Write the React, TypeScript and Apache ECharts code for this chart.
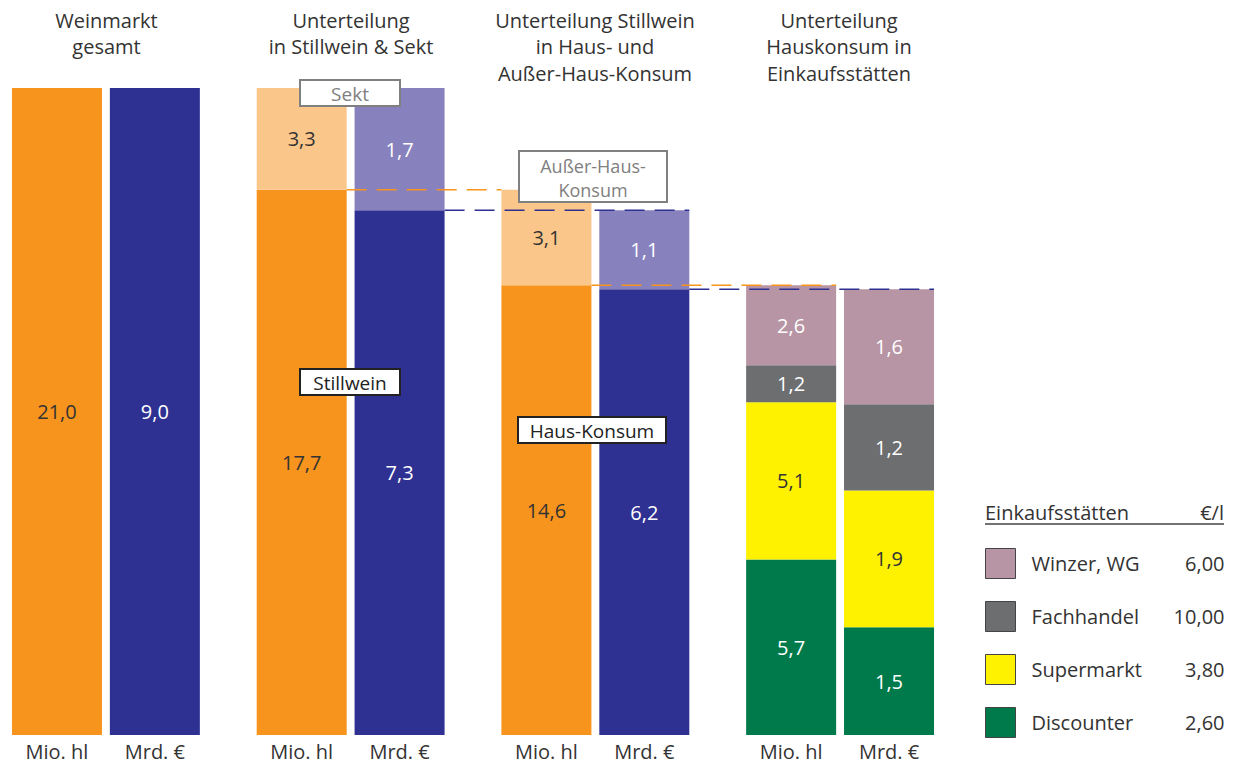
import React, { useEffect, useRef } from "react";
import * as echarts from "echarts";

// ---- data ----
const slotCount = 18;
const hlSlots = [0, 5, 10, 15];
const eurSlots = [2, 7, 12, 17];
const unitLabels = ["Mio. hl", "Mrd. €"];

const hlBase = [21.0, 17.7, 14.6];       // Weinmarkt / Stillwein / Haus-Konsum
const hlUpper = [null, 3.3, 3.1];        // Sekt / Außer-Haus
const eurBase = [9.0, 7.3, 6.2];
const eurUpper = [null, 1.7, 1.1];

const storeNames = ["Discounter", "Supermarkt", "Fachhandel", "Winzer, WG"];
const storeHl = [5.7, 5.1, 1.2, 2.6];
const storeEur = [1.5, 1.9, 1.2, 1.6];
const storePrices = ["2,60", "3,80", "10,00", "6,00"];
const storeColors = ["#007A4A", "#FFF200", "#6D6E70", "#B895A5"];
const storeLabelColors = ["#fff", "#333", "#fff", "#fff"];

const groupTitles = [
  "Weinmarkt\ngesamt",
  "Unterteilung\nin Stillwein & Sekt",
  "Unterteilung Stillwein\nin Haus- und\nAußer-Haus-Konsum",
  "Unterteilung\nHauskonsum in\nEinkaufsstätten",
];

const FONT = "'Open Sans', Roboto, sans-serif";
const TXT = "#333";

function place(slots: number[], values: (number | null)[]): any[] {
  const arr: any[] = new Array(slotCount).fill("-");
  values.forEach((v, i) => {
    if (v !== null && v !== undefined) arr[slots[i]] = v;
  });
  return arr;
}

const fmt = (p: any) =>
  typeof p.value === "number" ? p.value.toFixed(1).replace(".", ",") : "";

export default function App() {
  const ref = useRef<HTMLDivElement>(null);
  useEffect(() => {
    const chart = echarts.init(ref.current!, undefined, { renderer: "svg" });
    const categories = Array.from({ length: slotCount }, (_, i) => "s" + i);
    const labelFor = (v: string) => {
      const i = Number(v.slice(1));
      if (hlSlots.includes(i)) return unitLabels[0];
      if (eurSlots.includes(i)) return unitLabels[1];
      return "";
    };
    const mkLabel = (color: string) => ({
      show: true,
      position: "inside",
      color,
      fontSize: 20,
      fontFamily: FONT,
      formatter: fmt,
    });
    const base = { type: "bar", barWidth: 90, clip: false };
    const series: any[] = [
      {
        ...base,
        name: "Basis hl",
        xAxisIndex: 0,
        yAxisIndex: 0,
        stack: "hl",
        data: place(hlSlots, hlBase),
        itemStyle: { color: "#F7941D" },
        label: mkLabel(TXT),
      },
      {
        ...base,
        name: "Oben hl",
        xAxisIndex: 0,
        yAxisIndex: 0,
        stack: "hl",
        data: place(hlSlots, hlUpper),
        itemStyle: { color: "#FBC68A" },
        label: mkLabel(TXT),
      },
      {
        ...base,
        name: "Basis eur",
        xAxisIndex: 1,
        yAxisIndex: 1,
        stack: "eur",
        data: place(eurSlots, eurBase),
        itemStyle: { color: "#2E3192" },
        label: mkLabel("#fff"),
      },
      {
        ...base,
        name: "Oben eur",
        xAxisIndex: 1,
        yAxisIndex: 1,
        stack: "eur",
        data: place(eurSlots, eurUpper),
        itemStyle: { color: "#8781BD" },
        label: mkLabel("#fff"),
      },
    ];
    storeNames.forEach((n, i) => {
      series.push({
        ...base,
        name: n,
        xAxisIndex: 0,
        yAxisIndex: 0,
        stack: "hl",
        data: place([hlSlots[3]], [storeHl[i]]),
        itemStyle: { color: storeColors[i] },
        label: mkLabel(storeLabelColors[i]),
      });
      series.push({
        ...base,
        name: n,
        xAxisIndex: 1,
        yAxisIndex: 1,
        stack: "eur",
        data: place([eurSlots[3]], [storeEur[i]]),
        itemStyle: { color: storeColors[i] },
        label: mkLabel(storeLabelColors[i]),
      });
    });

    const legendOrder = [...storeNames].reverse();
    const priceOf: Record<string, string> = {};
    storeNames.forEach((n, i) => (priceOf[n] = storePrices[i]));

    const groupCenters = [106.5, 351, 595, 839];
    const graphic: any[] = [];
    groupTitles.forEach((t, i) => {
      graphic.push({
        type: "text",
        x: groupCenters[i],
        y: 7,
        style: {
          text: t,
          fill: TXT,
          font: `20px ${FONT}`,
          align: "center",
          verticalAlign: "top",
          lineHeight: 26.5,
        },
      });
    });
    // legend header
    graphic.push(
      {
        type: "text",
        x: 985,
        y: 512,
        style: { text: "Einkaufsstätten", fill: TXT, font: `20px ${FONT}`, verticalAlign: "middle" },
      },
      {
        type: "text",
        x: 1224,
        y: 512,
        style: { text: "€/l", fill: TXT, font: `20px ${FONT}`, align: "right", verticalAlign: "middle" },
      },
      {
        type: "line",
        shape: { x1: 985, y1: 524, x2: 1224, y2: 524 },
        style: { stroke: "#444", lineWidth: 1.5 },
      }
    );
    const box = (x: number, y: number, w: number, h: number, lines: string[], color: string, size: number, lh: number) => {
      graphic.push({
        type: "rect",
        z: 100,
        shape: { x, y, width: w, height: h },
        style: { fill: "#fff", stroke: color, lineWidth: 2 },
      });
      const y0 = y + h / 2 + 1 - ((lines.length - 1) * lh) / 2;
      lines.forEach((t, k) => {
        graphic.push({
          type: "text",
          z: 101,
          x: x + w / 2,
          y: y0 + k * lh,
          style: {
            text: t,
            fill: color,
            font: `${size}px ${FONT}`,
            align: "center",
            verticalAlign: "middle",
          },
        });
      });
    };

    const option: any = {
      animation: false,
      grid: { left: 32.5, right: 321.5, top: 88, bottom: 32 },
      xAxis: [
        {
          type: "category",
          data: categories,
          axisLine: { show: false },
          axisTick: { show: false },
          axisLabel: {
            interval: 0,
            formatter: labelFor,
            color: TXT,
            fontSize: 20,
            fontFamily: FONT,
            margin: 6,
          },
        },
        { type: "category", data: categories, show: false },
      ],
      yAxis: [
        { type: "value", min: 0, max: 21, show: false, splitLine: { show: false } },
        { type: "value", min: 0, max: 9, show: false, splitLine: { show: false } },
      ],
      legend: {
        data: legendOrder,
        orient: "vertical",
        left: 985,
        top: 548,
        padding: 0,
        itemWidth: 30,
        itemHeight: 30,
        itemGap: 22,
        icon: "rect",
        selectedMode: false,
        itemStyle: { borderColor: "#444", borderWidth: 1 },
        formatter: (name: string) => `{n|${name}}{p|${priceOf[name]}}`,
        textStyle: {
          color: TXT,
          fontFamily: FONT,
          fontSize: 20,
          rich: {
            n: { width: 138, fontSize: 20, fontFamily: FONT, color: TXT, padding: [0, 0, 0, 11] },
            p: { width: 55, align: "right", fontSize: 20, fontFamily: FONT, color: TXT },
          },
        },
      },
      series,
    };
    chart.setOption(option);

    // dashed connector lines, positioned through the axes
    const px = (axis: number, slot: number, v: number) =>
      chart.convertToPixel({ xAxisIndex: axis, yAxisIndex: axis } as any, [slot, v]) as number[];
    const half = 45;
    const conn = (axis: number, fromSlot: number, fromSide: number, toSlot: number, toSide: number, v: number, color: string) => {
      const a = px(axis, fromSlot, v);
      const b = px(axis, toSlot, v);
      graphic.push({
        type: "line",
        z: 50,
        shape: { x1: a[0] + fromSide * half, y1: a[1], x2: b[0] + toSide * half, y2: b[1] },
        style: { stroke: color, lineWidth: 1.5, lineDash: [20, 10] },
      });
    };
    conn(0, hlSlots[1], 1, hlSlots[2], -1, hlBase[1], "#F7941D");
    conn(1, eurSlots[1], 1, eurSlots[2], 1, eurBase[1], "#2E3192");
    conn(0, hlSlots[2], 1, hlSlots[3], 1, hlBase[2], "#F7941D");
    conn(1, eurSlots[2], 1, eurSlots[3], 1, eurBase[2], "#2E3192");

    box(300, 80, 100, 26, ["Sekt"], "#808080", 19, 0);
    box(519, 151, 148, 51, ["Außer-Haus-", "Konsum"], "#808080", 18, 24);
    box(300, 369, 100, 26, ["Stillwein"], "#222", 19, 0);
    box(518, 417, 148, 26, ["Haus-Konsum"], "#222", 19, 0);

    chart.setOption({ graphic });
    return () => chart.dispose();
  }, []);
  return (
    <div
      ref={ref}
      style={{ position: "fixed", left: 0, top: 0, width: 1235, height: 767, background: "#fff" }}
    />
  );
}
